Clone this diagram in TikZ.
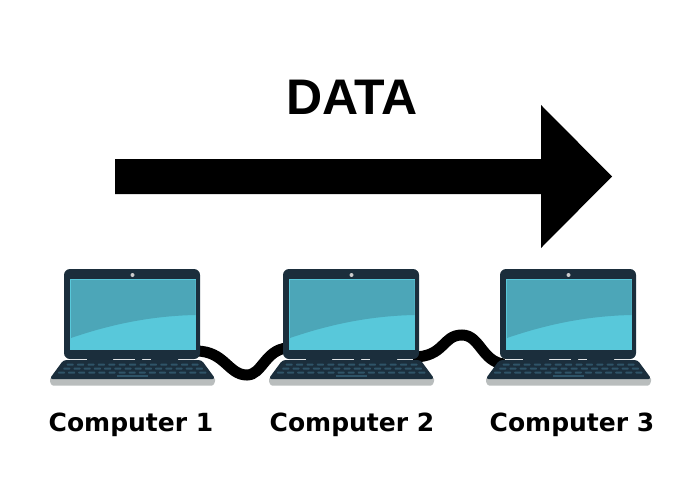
\documentclass[tikz,border=0pt]{standalone}
\usepackage{fontspec}
\setmainfont{DejaVu Sans}
\newfontfamily\datafont{Liberation Sans}
\definecolor{lidcol}{HTML}{1B2E3C}
\definecolor{darkscreen}{HTML}{4CA6B8}
\definecolor{lightscreen}{HTML}{58C8DA}
\definecolor{keycol}{HTML}{2F5468}
\definecolor{basegrey}{HTML}{B9BDBD}
\tikzset{
  cable/.style={line width=11pt, black},
  biglabel/.style={font=\datafont\bfseries\fontsize{50}{50}\selectfont},
  pclabel/.style={font=\bfseries\fontsize{25}{25}\selectfont},
  laptop/.pic={
    % Draw the lid and the screen
    \fill[lidcol, rounded corners=6pt] (0,0) rectangle (136,90);
    \fill[lightscreen] (6,10) rectangle (132,81);
    \fill[darkscreen] (7,11) -- (131.5,11) -- (131.5,46) .. controls (85,47) and (45,56) .. (7,69) -- cycle;
    \fill[gray!40] (68.5,6) circle (2);
    % Draw the base and its hinges
    \fill[basegrey, rounded corners=1pt] (-14,109) -- (151,109) -- (151,113) -- (149,116.5) -- (-12,116.5) -- (-14,113) -- cycle;
    \fill[lidcol, rounded corners=3pt] (-0.5,91) -- (137.5,91) -- (151.5,110) -- (-14.5,110) -- cycle;
    \fill[lidcol] (23,88) rectangle (49,92) (71,88) rectangle (78,92) (87,88) rectangle (114,92);
    % Fill in the rows of keys
    \foreach \i in {0,...,12} \fill[keycol, rounded corners=0.8pt] (2.7+10.4*\i,94.5) rectangle ++(7,2.2);
    \foreach \i in {0,...,13} \fill[keycol, rounded corners=0.8pt] (-0.7+10.2*\i,98.5) rectangle ++(7,2.2);
    \foreach \i in {0,...,14} \fill[keycol, rounded corners=0.8pt] (-6+10.1*\i,102.5) rectangle ++(7,2.2);
    \fill[keycol] (53,106) rectangle ++(31,2.2);
  }
}
\begin{document}
\begin{tikzpicture}[x=1pt, y=-1pt]
  \useasboundingbox (0,0) rectangle (700,497);

  % Draw the big arrow
  \fill[black] (115,159) -- (541,159) -- (541,105) -- (612,176.5) -- (541,248) -- (541,194) -- (115,194) -- cycle;
  \node[biglabel] (data) at (352,97) {DATA};

  % Cable ends, hidden under the computers
  \coordinate (pc1east) at (196,351);
  \coordinate (pc2west) at (287,348);
  \coordinate (pc2east) at (413,357);
  \coordinate (pc3west) at (504,364);

  % Draw the cables first
  \draw[cable] (pc1east) .. controls (225,351) and (228,375) .. (247,375) .. controls (262,375) and (265,350) .. (pc2west);
  \draw[cable] (pc2east) .. controls (445,357) and (442,335) .. (462,335) .. controls (480,335) and (482,362) .. (pc3west);

  % Place the computers
  \pic (pc1) at (64,269) {laptop};
  \pic (pc2) at (283,269) {laptop};
  \pic (pc3) at (500,269) {laptop};

  \node[pclabel] (label1) at (131,425) {Computer 1};
  \node[pclabel] (label2) at (352,425) {Computer 2};
  \node[pclabel] (label3) at (572,425) {Computer 3};
\end{tikzpicture}
\end{document}
